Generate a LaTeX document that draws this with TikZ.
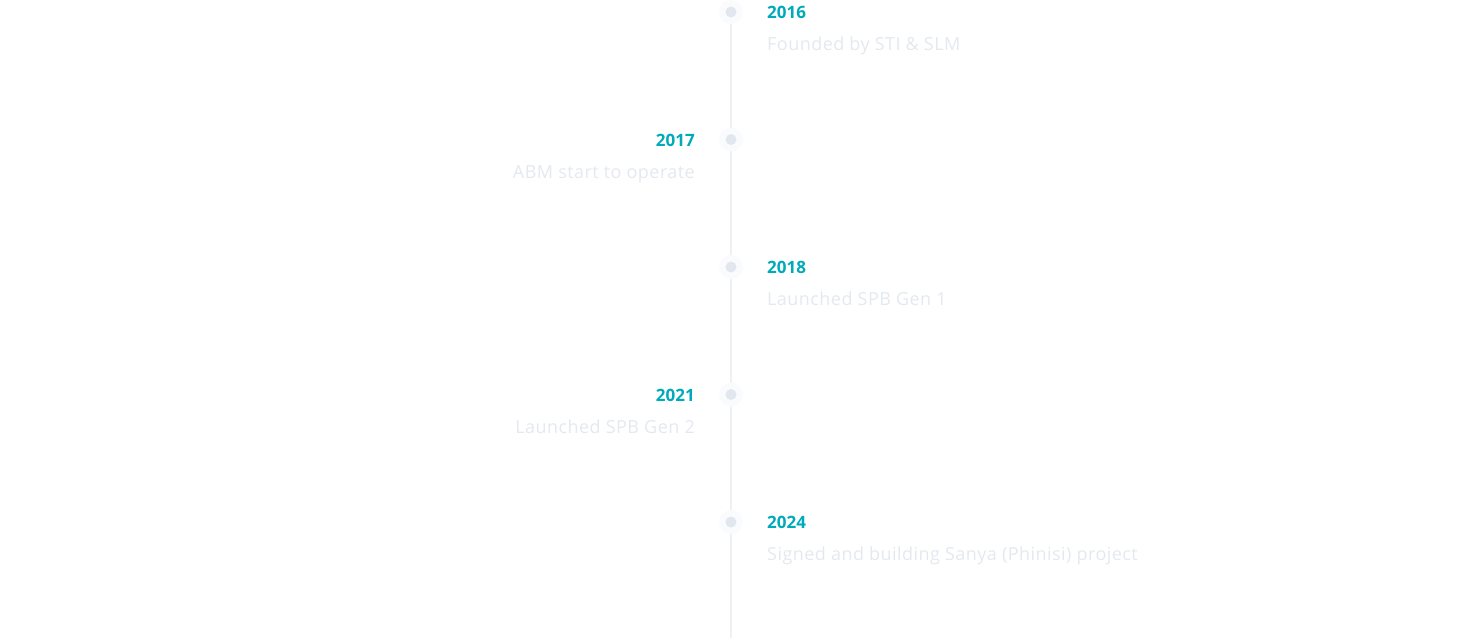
\documentclass[tikz,border=0pt]{standalone}
\usepackage{fontspec}
\setmainfont{Open Sans}
\newfontfamily\descfont{Open Sans}[LetterSpace=2.5]
\usetikzlibrary{positioning}

\definecolor{yearteal}{RGB}{0,170,186}
\definecolor{desctext}{RGB}{228,232,239}
\definecolor{stemline}{RGB}{238,240,243}
\definecolor{dotfill}{RGB}{226,230,238}
\definecolor{halofill}{RGB}{250,251,252}

\tikzset{
  halo/.style={circle,fill=halofill,minimum size=24pt,inner sep=0pt},
  dot/.style={circle,fill=dotfill,minimum size=11pt,inner sep=0pt},
  yearlabel/.style={text=yearteal,font=\fontsize{17}{20}\selectfont\bfseries,inner sep=0pt},
  desclabel/.style={text=desctext,font=\descfont\fontsize{18}{21}\selectfont,inner sep=0pt}
}

\begin{document}
\begin{tikzpicture}[x=1pt,y=-1pt]
\useasboundingbox (0,0) rectangle (1462,638);

% the stem
\coordinate (stemend) at (731,638);
\draw[stemline,line width=2pt] (731,12) -- (stemend);

% events: index / y / side / year / text
\def\events{1/12/r/2016/{Founded by STI \& SLM},
            2/139.5/l/2017/{ABM start to operate},
            3/267/r/2018/{Launched SPB Gen 1},
            4/394.5/l/2021/{Launched SPB Gen 2},
            5/522/r/2024/{Signed and building Sanya (Phinisi) project}}
\foreach \i / \ypos / \side / \year / \what in \events {
  \node[halo] (h\i) at (731,\ypos) {};
  \node[dot] (d\i) at (h\i) {};
  \if r\side
    \node[yearlabel,anchor=base west] (y\i) at (767,\ypos+6.5) {\year};
    \node[desclabel,anchor=base west] (t\i) at (767,\ypos+38.5) {\what};
  \else
    \node[yearlabel,anchor=base east] (y\i) at (695,\ypos+6.5) {\year};
    \node[desclabel,anchor=base east] (t\i) at (695,\ypos+38.5) {\what};
  \fi
}

\end{tikzpicture}
\end{document}
